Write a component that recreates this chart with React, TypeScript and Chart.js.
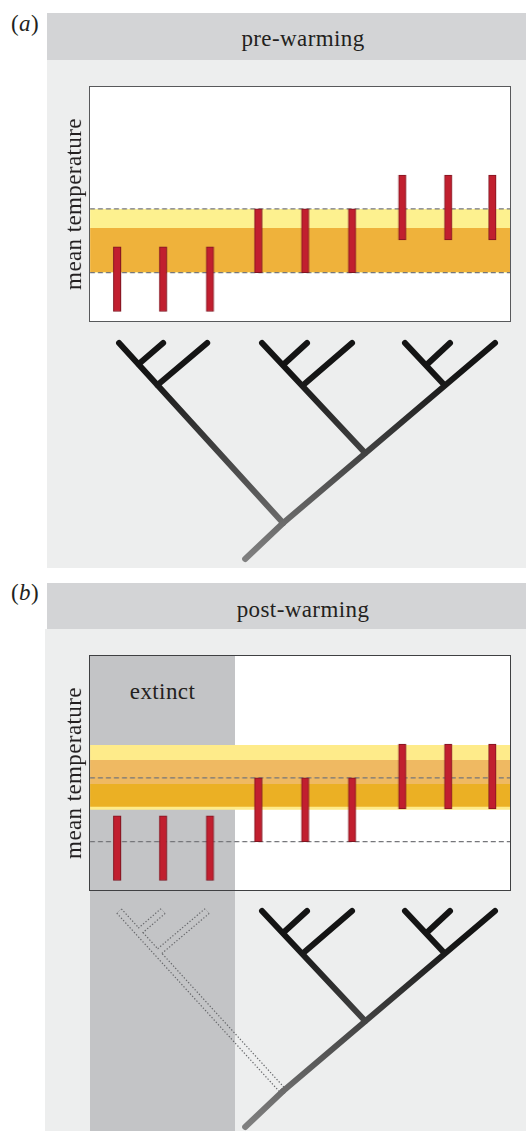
import React, { useEffect, useRef } from 'react';
import { Chart, registerables } from 'chart.js';

Chart.register(...registerables);

// ---------- data ----------
const speciesX = [1.0, 1.98, 2.98, 4.01, 5.01, 6.01, 7.08, 8.06, 9.0];
const tolLow = [0.38, 0.38, 0.38, 2.05, 2.05, 2.05, 3.46, 3.46, 3.46];
const tolHigh = [3.16, 3.16, 3.16, 4.79, 4.79, 4.79, 6.24, 6.24, 6.24];

const preYellowBand = [2.05, 4.79];
const preOrangeBand = [2.08, 3.97];
const postYellowBand = [3.42, 6.2];
const postOrangeLightBand = [4.53, 5.56];
const postOrangeDarkBand = [3.55, 4.53];
const preRangeLines = [2.05, 4.79];

const X_MIN = 0.42;
const X_MAX = 9.38;
const TEMP_MIN = 0;
const TEMP_MAX = 10;
const DEPTH_MIN = -13;

// phylogeny: node positions (x in species units, depth downward from tips)
const nodeNames = ['t1', 't2', 't3', 't4', 't5', 't6', 't7', 't8', 't9', 'c1a', 'c1b', 'c2a', 'c2b', 'c3a', 'c3b', 'n23', 'root', 'stem'];
const nodeX = [1.04, 1.98, 2.92, 4.09, 5.05, 6.01, 7.14, 8.1, 9.06, 1.46, 1.86, 4.56, 4.97, 7.62, 7.98, 6.29, 4.54, 3.73];
const nodeDepth = [0, 0, 0, 0, 0, 0, 0, 0, 0, 21, 42, 21, 42, 21, 42, 110, 180, 216];
const clade1Branches = [['t1', 'root'], ['t2', 'c1a'], ['t3', 'c1b']];
const otherBranches = [['t4', 'n23'], ['t5', 'c2a'], ['t6', 'c2b'], ['t7', 'c3b'], ['t8', 'c3a'], ['t9', 'root'], ['root', 'stem']];

const FONT = "'Liberation Serif', 'Times New Roman', serif";
const TEXT_COLOR = '#231f20';
const FONT_SIZE = 23;

// ---------- plugins ----------
const letterSpacingPlugin = {
  id: 'letterSpacingTitle',
  beforeDraw(chart: any) {
    chart.ctx.letterSpacing = '0.4px';
  },
  afterDraw(chart: any) {
    chart.ctx.letterSpacing = '0px';
  },
};

const erasePlugin = {
  id: 'eraseHollow',
  beforeDatasetDraw(chart: any, args: any) {
    const ds = chart.data.datasets[args.index];
    if (ds && ds.erase) {
      chart.ctx.save();
      chart.ctx.globalCompositeOperation = 'destination-out';
    }
  },
  afterDatasetDraw(chart: any, args: any) {
    const ds = chart.data.datasets[args.index];
    if (ds && ds.erase) chart.ctx.restore();
  },
};

// ---------- dataset builders ----------
function bandDataset(range: number[], color: string, order: number) {
  return {
    type: 'line',
    data: [{ x: X_MIN, y: range[1] }, { x: X_MAX, y: range[1] }],
    fill: { value: range[0] },
    backgroundColor: color,
    borderWidth: 0,
    pointRadius: 0,
    order,
  };
}

function dashDataset(v: number) {
  return {
    type: 'line',
    data: [{ x: X_MIN, y: v }, { x: X_MAX, y: v }],
    borderColor: '#75767a',
    borderWidth: 1.3,
    borderDash: [5, 3],
    pointRadius: 0,
    fill: false,
    order: 2,
  };
}

function barsDataset() {
  return {
    type: 'bar',
    data: speciesX.map((x, i) => ({ x, y: [tolLow[i], tolHigh[i]] })),
    backgroundColor: '#c11f2f',
    borderColor: '#7e1520',
    borderWidth: 1,
    borderSkipped: false,
    barThickness: 7.5,
    order: 1,
  };
}

function nodePoint(name: string) {
  const i = nodeNames.indexOf(name);
  return { x: nodeX[i], y: nodeDepth[i] };
}

function makeTreeGradient(yMax: number) {
  return (ctx: any) => {
    const chart = ctx.chart;
    const h = chart.height;
    if (!h || !isFinite(h)) return '#333333';
    const toPx = (v: number) => ((v - DEPTH_MIN) / (yMax - DEPTH_MIN)) * h;
    const y0 = toPx(30);
    const y1 = toPx(216);
    if (!isFinite(y0) || !isFinite(y1)) return '#333333';
    const g = chart.ctx.createLinearGradient(0, y0, 0, y1);
    g.addColorStop(0, '#141414');
    g.addColorStop(1, '#808080');
    return g;
  };
}

function solidBranch(b: string[], grad: any) {
  return {
    data: [nodePoint(b[0]), nodePoint(b[1])],
    showLine: true,
    pointRadius: 0,
    borderWidth: 6,
    borderColor: grad,
    borderCapStyle: 'round',
    borderJoinStyle: 'round',
    order: 1,
  };
}

function hollowOutline(b: string[]) {
  return {
    data: [nodePoint(b[0]), nodePoint(b[1])],
    showLine: true,
    pointRadius: 0,
    borderWidth: 7.5,
    borderColor: '#66676a',
    borderDash: [1.3, 1.9],
    borderCapStyle: 'butt',
    order: 3,
  };
}

function hollowErase(b: string[]) {
  return {
    data: [nodePoint(b[0]), nodePoint(b[1])],
    showLine: true,
    pointRadius: 0,
    borderWidth: 5,
    borderColor: '#000000',
    borderCapStyle: 'butt',
    erase: true,
    order: 2,
  };
}

// ---------- chart components ----------
function TempChart({ datasets, style }: { datasets: any[]; style: React.CSSProperties }) {
  const ref = useRef<HTMLCanvasElement>(null);
  useEffect(() => {
    if (!ref.current) return;
    const chart = new Chart(ref.current, {
      type: 'bar',
      data: { datasets } as any,
      options: {
        animation: false,
        responsive: true,
        maintainAspectRatio: false,
        events: [],
        layout: { padding: 0 },
        plugins: { legend: { display: false }, tooltip: { enabled: false } },
        scales: {
          x: { type: 'linear', min: X_MIN, max: X_MAX, offset: false, display: false },
          y: {
            type: 'linear',
            min: TEMP_MIN,
            max: TEMP_MAX,
            position: 'left',
            ticks: { display: false },
            grid: { display: false, drawTicks: false },
            border: { display: false },
            title: {
              display: true,
              text: 'mean temperature',
              color: TEXT_COLOR,
              font: { family: FONT, size: FONT_SIZE, lineHeight: 1.2 },
              padding: { top: 0, bottom: 1.2 },
            },
          },
        },
      } as any,
      plugins: [letterSpacingPlugin],
    });
    return () => chart.destroy();
  }, []);
  return (
    <div style={{ position: 'absolute', ...style }}>
      <canvas ref={ref} />
    </div>
  );
}

function TreeChart({ datasets, yMax, style }: { datasets: any[]; yMax: number; style: React.CSSProperties }) {
  const ref = useRef<HTMLCanvasElement>(null);
  useEffect(() => {
    if (!ref.current) return;
    const chart = new Chart(ref.current, {
      type: 'scatter',
      data: { datasets } as any,
      options: {
        animation: false,
        responsive: true,
        maintainAspectRatio: false,
        events: [],
        layout: { padding: 0 },
        plugins: { legend: { display: false }, tooltip: { enabled: false } },
        scales: {
          x: { type: 'linear', min: X_MIN, max: X_MAX, display: false },
          y: { type: 'linear', min: DEPTH_MIN, max: yMax, reverse: true, display: false },
        },
      } as any,
      plugins: [erasePlugin],
    });
    return () => chart.destroy();
  }, []);
  return (
    <div style={{ position: 'absolute', ...style }}>
      <canvas ref={ref} />
    </div>
  );
}

const abs = (s: React.CSSProperties): React.CSSProperties => ({ position: 'absolute', ...s });

const textStyle: React.CSSProperties = {
  fontFamily: FONT,
  fontSize: FONT_SIZE,
  lineHeight: '26px',
  letterSpacing: '0.4px',
  color: TEXT_COLOR,
  whiteSpace: 'nowrap',
};

export default function App() {
  const preDatasets = [
    barsDataset(),
    dashDataset(preRangeLines[0]),
    dashDataset(preRangeLines[1]),
    bandDataset(preOrangeBand, '#efb23b', 3),
    bandDataset(preYellowBand, '#fdf18f', 4),
  ];
  const postDatasets = [
    barsDataset(),
    dashDataset(preRangeLines[0]),
    dashDataset(preRangeLines[1]),
    bandDataset(postOrangeDarkBand, '#ebb024', 3),
    bandDataset(postOrangeLightBand, '#efb962', 3),
    bandDataset(postYellowBand, '#feeb8a', 4),
  ];
  const gradA = makeTreeGradient(225);
  const gradB = makeTreeGradient(220);
  const preTree = [...clade1Branches, ...otherBranches].map((b) => solidBranch(b, gradA));
  const postTree = [
    ...otherBranches.map((b) => solidBranch(b, gradB)),
    ...clade1Branches.map(hollowErase),
    ...clade1Branches.map(hollowOutline),
  ];

  return (
    <div style={abs({ left: 0, top: 0, width: 526, height: 1131, overflow: 'hidden', background: '#ffffff' })}>
      {/* ---------- panel (a) ---------- */}
      <div style={abs({ ...textStyle, left: 11, top: 11 })}>
        (<i>a</i>)
      </div>
      <div style={abs({ left: 47, top: 13, width: 479, height: 47, background: '#d3d4d6' })} />
      <div style={abs({ ...textStyle, left: 90, top: 26, width: 426, textAlign: 'center' })}>pre-warming</div>
      <div style={abs({ left: 47, top: 60, width: 479, height: 508, background: '#edeeee' })} />
      <div style={abs({ left: 89, top: 86, width: 422, height: 236, background: '#ffffff' })} />
      <div
        style={abs({ left: 89, top: 86, width: 422, height: 236, boxSizing: 'border-box', border: '1.5px solid #58595b' })}
      />
      <TempChart datasets={preDatasets} style={{ left: 61.2, top: 87, width: 448.8, height: 234 }} />
      <TreeChart datasets={preTree} yMax={225} style={{ left: 90, top: 330, width: 420, height: 238 }} />

      {/* ---------- panel (b) ---------- */}
      <div style={abs({ ...textStyle, left: 11, top: 579.5 })}>
        (<i>b</i>)
      </div>
      <div style={abs({ left: 47, top: 583, width: 479, height: 46, background: '#d3d4d6' })} />
      <div style={abs({ ...textStyle, left: 90, top: 597, width: 426, textAlign: 'center' })}>post-warming</div>
      <div style={abs({ left: 45, top: 629, width: 481, height: 502, background: '#edeeee' })} />
      <div style={abs({ left: 89, top: 655, width: 422, height: 236, background: '#ffffff' })} />
      <div style={abs({ left: 90, top: 656, width: 145, height: 475, background: '#c3c4c6' })} />
      <div
        style={abs({ left: 89, top: 655, width: 422, height: 236, boxSizing: 'border-box', border: '1.5px solid #3f4042' })}
      />
      <div style={abs({ ...textStyle, left: 90, top: 679, width: 145, textAlign: 'center' })}>extinct</div>
      <TempChart datasets={postDatasets} style={{ left: 61.2, top: 656, width: 448.8, height: 234 }} />
      <TreeChart datasets={postTree} yMax={220} style={{ left: 90, top: 898, width: 420, height: 233 }} />
    </div>
  );
}
